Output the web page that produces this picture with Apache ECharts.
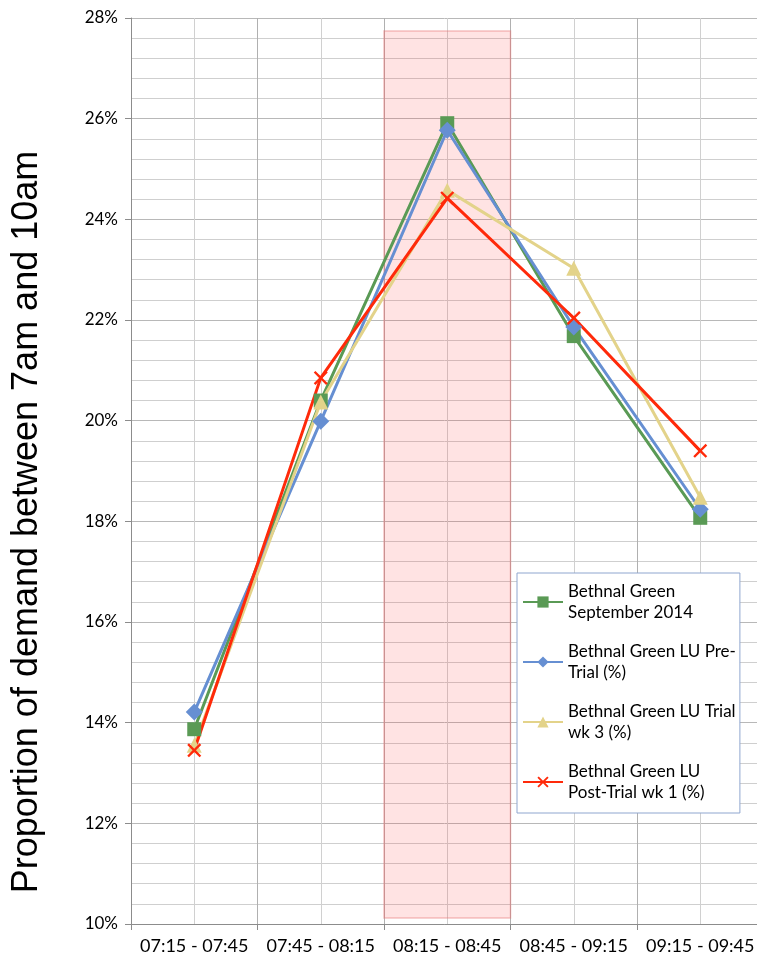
<!DOCTYPE html>
<html>
<head>
<meta charset="utf-8">
<script src="https://cdn.jsdelivr.net/npm/echarts@6/dist/echarts.min.js"></script>
<style>html,body{margin:0;padding:0;background:#fff;overflow:hidden}#c{width:757px;height:962px}</style>
</head>
<body>
<div id="c"></div>
<script>
var categories = ['07:15 - 07:45', '07:45 - 08:15', '08:15 - 08:45', '08:45 - 09:15', '09:15 - 09:45'];
var seriesNames = ['Bethnal Green\nSeptember 2014', 'Bethnal Green LU Pre-\nTrial (%)', 'Bethnal Green LU Trial\nwk 3 (%)', 'Bethnal Green LU\nPost-Trial wk 1 (%)'];
var septSeries = [13.87, 20.40, 25.91, 21.68, 18.07];
var preTrial = [14.21, 19.99, 25.77, 21.86, 18.24];
var trialWk3 = [13.55, 20.37, 24.58, 23.03, 18.48];
var postTrial = [13.45, 20.85, 24.42, 22.04, 19.40];
var highlightRange = [2, 3];       // category boundary indexes of shaded peak
var highlightValues = [27.74, 10.12];
var yTitle = 'Proportion of demand between 7am and 10am';

var chart = echarts.init(document.getElementById('c'));
var font = 'Lato, "DejaVu Sans", sans-serif';
var xPath = 'path://M0,1.2L1.2,0L5,3.8L8.8,0L10,1.2L6.2,5L10,8.8L8.8,10L5,6.2L1.2,10L0,8.8L3.8,5Z';

function lineSeries(name, data, color, symbol, size) {
  return {
    name: name, type: 'line', data: data, xAxisIndex: 0, yAxisIndex: 0,
    symbol: symbol, symbolSize: size, showSymbol: true,
    lineStyle: {color: color, width: 3},
    itemStyle: {color: color},
    emphasis: {disabled: true},
    animation: false, z: 3
  };
}

chart.setOption({
  animation: false,
  grid: {left: 131, width: 632.5, top: 18, height: 906, outerBoundsMode: 'none', containLabel: false},
  xAxis: [{
    type: 'category', data: categories, boundaryGap: true,
    axisLine: {lineStyle: {color: '#8c8c8c', width: 1}},
    axisTick: {show: true, length: 6, lineStyle: {color: '#8c8c8c'}},
    axisLabel: {color: '#000', fontSize: 18, fontFamily: font, margin: 13, interval: 0},
    splitLine: {show: true, lineStyle: {color: '#b0b0b0', width: 1}}
  }, {
    type: 'value', min: 0, max: 5, interval: 1, position: 'bottom',
    axisLine: {show: false}, axisTick: {show: false}, axisLabel: {show: false},
    splitLine: {show: false},
    minorTick: {show: false, splitNumber: 2},
    minorSplitLine: {show: true, lineStyle: {color: '#d0d0d0', width: 1}}
  }],
  yAxis: {
    type: 'value', min: 10, max: 28, interval: 2,
    axisLine: {show: true, lineStyle: {color: '#8c8c8c'}},
    axisTick: {show: true, length: 6, lineStyle: {color: '#8c8c8c'}},
    axisLabel: {formatter: '{value}%', color: '#000', fontSize: 17, fontFamily: font, margin: 13},
    splitLine: {show: true, lineStyle: {color: '#b8b8b8'}},
    minorTick: {show: false, splitNumber: 5},
    minorSplitLine: {show: true, lineStyle: {color: '#cfcfcf'}}
  },
  legend: {
    orient: 'vertical', left: 517, top: 573, width: 226, height: 239,
    backgroundColor: '#fff', borderColor: '#8fa6cf', borderWidth: 1,
    padding: [8, 4, 10, 5], itemGap: 18, itemWidth: 40, itemHeight: 14,
    textStyle: {color: '#000', fontSize: 17, fontFamily: font, lineHeight: 21},
    data: seriesNames
  },
  graphic: [{
    type: 'text', x: 27, y: 522, rotation: Math.PI / 2,
    style: {text: yTitle, font: '36px "Liberation Sans", Arial, sans-serif', fill: '#000', textAlign: 'center', textVerticalAlign: 'middle'}
  }],
  series: [
    {
      type: 'line', xAxisIndex: 1, yAxisIndex: 0, data: [], silent: true,
      markArea: {
        silent: true,
        itemStyle: {color: 'rgba(255,60,60,0.14)', borderColor: 'rgba(230,120,120,0.45)', borderWidth: 1.5},
        data: [[{xAxis: highlightRange[0], yAxis: highlightValues[0]}, {xAxis: highlightRange[1], yAxis: highlightValues[1]}]]
      },
      z: 1
    },
    lineSeries(seriesNames[0], septSeries, '#5a9a55', 'rect', 14),
    lineSeries(seriesNames[1], preTrial, '#668fd2', 'diamond', 17),
    lineSeries(seriesNames[2], trialWk3, '#e3d38a', 'triangle', 15),
    lineSeries(seriesNames[3], postTrial, '#ff2a0a', xPath, 14)
  ]
});
</script>
</body>
</html>
